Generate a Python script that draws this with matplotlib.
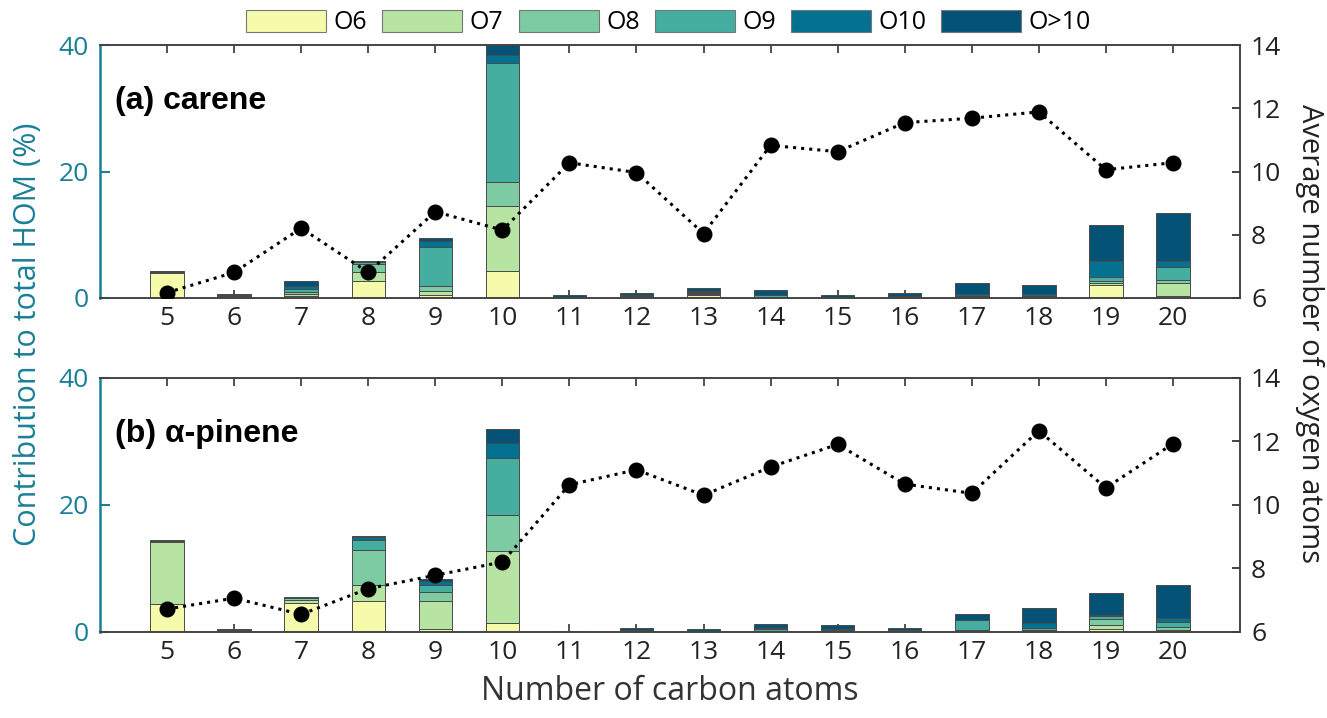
import numpy as np
import matplotlib.pyplot as plt
from matplotlib.patches import Patch

carbon = np.arange(5, 21)
groups = ['O6', 'O7', 'O8', 'O9', 'O10', 'O>10']
colors = ['#f5fbaa', '#b8e4a3', '#7ccba2', '#46aea0', '#047190', '#045275']

# (a) carene: contribution (%) of each oxygen group per carbon number
car_O6 = [3.9, 0.10, 0.30, 2.7, 0.5, 4.2, 0.02, 0.05, 0.50, 0.05, 0.02, 0.02, 0.05, 0.05, 2.1, 0.3]
car_O7 = [0.1, 0.15, 0.35, 1.4, 0.6, 10.4, 0.02, 0.05, 0.15, 0.05, 0.02, 0.02, 0.10, 0.05, 0.2, 2.0]
car_O8 = [0.05, 0.10, 0.30, 1.3, 0.8, 3.75, 0.02, 0.05, 0.10, 0.10, 0.02, 0.03, 0.10, 0.10, 0.4, 0.6]
car_O9 = [0.05, 0.10, 0.50, 0.3, 6.1, 18.9, 0.04, 0.10, 0.15, 0.20, 0.04, 0.05, 0.10, 0.10, 0.6, 2.0]
car_O10 = [0.05, 0.05, 0.40, 0.1, 1.05, 1.2, 0.10, 0.15, 0.20, 0.10, 0.10, 0.15, 0.35, 0.40, 2.5, 1.0]
car_Ohi = [0.1, 0.10, 0.90, 0.1, 0.4, 2.0, 0.20, 0.40, 0.40, 0.75, 0.30, 0.45, 1.70, 1.30, 5.8, 7.5]
car_avgO = [6.17, 6.81, 8.21, 6.81, 8.73, 8.15, 10.28, 9.97, 8.04, 10.83, 10.63, 11.55, 11.69, 11.89, 10.06, 10.28]

# (b) alpha-pinene
pin_O6 = [4.4, 0.05, 4.6, 4.9, 0.5, 1.45, 0.01, 0.03, 0.02, 0.05, 0.03, 0.02, 0.05, 0.05, 0.5, 0.05]
pin_O7 = [9.7, 0.05, 0.4, 2.4, 4.4, 11.2, 0.01, 0.03, 0.03, 0.05, 0.05, 0.03, 0.05, 0.10, 0.5, 0.3]
pin_O8 = [0.1, 0.05, 0.3, 5.6, 1.35, 5.8, 0.01, 0.04, 0.05, 0.10, 0.07, 0.05, 0.15, 0.20, 1.05, 0.35]
pin_O9 = [0.05, 0.05, 0.05, 1.55, 1.2, 8.85, 0.02, 0.05, 0.05, 0.20, 0.10, 0.05, 1.55, 0.30, 0.4, 0.8]
pin_O10 = [0.05, 0.05, 0.05, 0.4, 0.55, 2.45, 0.02, 0.10, 0.05, 0.20, 0.15, 0.10, 0.05, 0.70, 0.25, 0.6]
pin_Ohi = [0.2, 0.15, 0.1, 0.25, 0.3, 2.2, 0.03, 0.30, 0.20, 0.70, 0.60, 0.30, 1.00, 2.40, 3.4, 5.25]
pin_avgO = [6.72, 7.06, 6.55, 7.36, 7.78, 8.20, 10.63, 11.10, 10.30, 11.19, 11.90, 10.65, 10.36, 12.33, 10.53, 11.92]

teal = '#1a7f96'
fs = 19
plt.rcParams['font.family'] = ['Open Sans', 'DejaVu Sans']

fig = plt.figure(figsize=(13.27, 7.18), dpi=100)
ax_a = fig.add_axes([0.0754, 0.585, 0.859, 0.352])
ax_b = fig.add_axes([0.0754, 0.120, 0.859, 0.354])


def panel(ax, layers, avgO, label):
    bottom = np.zeros(len(carbon))
    for vals, c in zip(layers, colors):
        vals = np.array(vals)
        ax.bar(carbon, vals, width=0.5, bottom=bottom, color=c,
               edgecolor='#4a4a4a', linewidth=0.7, zorder=2)
        bottom += vals
    ax.set_xlim(4, 21)
    ax.set_ylim(0, 40)
    ax.set_yticks([0, 20, 40])
    ax.set_xticks(carbon)
    ax.tick_params(axis='y', colors=teal, labelsize=fs, direction='in', length=7, width=1.5, pad=8)
    ax.tick_params(axis='x', labelsize=fs, direction='in', length=6, width=1.2, pad=6,
                   top=True, colors='#333333', labelcolor='#222222')
    for s in ['top', 'bottom', 'right']:
        ax.spines[s].set_color('#444444')
        ax.spines[s].set_linewidth(1.2)
    ax.spines['left'].set_color(teal)
    ax.spines['left'].set_linewidth(1.8)
    ax.text(0.013, 0.78, label, transform=ax.transAxes, fontsize=23, va='center',
            fontweight='bold', family=['Liberation Sans', 'DejaVu Sans'])

    ax2 = ax.twinx()
    ax2.plot(carbon, avgO, ':', color='black', linewidth=2.2, marker='o',
             markersize=10.5, zorder=3)
    ax2.set_ylim(6, 14)
    ax2.set_yticks([6, 8, 10, 12, 14])
    ax2.tick_params(axis='y', labelsize=fs, direction='in', length=6, width=1.2,
                    colors='#222222', pad=8)
    ax2.spines['left'].set_visible(False)
    for s in ['top', 'bottom', 'right']:
        ax2.spines[s].set_color('#444444')
        ax2.spines[s].set_linewidth(1.2)
    return ax2


panel(ax_a, [car_O6, car_O7, car_O8, car_O9, car_O10, car_Ohi], car_avgO, '(a) carene')
panel(ax_b, [pin_O6, pin_O7, pin_O8, pin_O9, pin_O10, pin_Ohi], pin_avgO, '(b) α-pinene')

ax_b.set_xlabel('Number of carbon atoms', fontsize=23, color='#333333', labelpad=7)
fig.text(0.021, 0.535, 'Contribution to total HOM (%)', rotation=90, color=teal,
         fontsize=22, ha='center', va='center')
fig.text(0.987, 0.535, 'Average number of oxygen atoms', rotation=270, color='#222222',
         fontsize=21, ha='center', va='center')

handles = [Patch(facecolor=c, edgecolor='#777777', linewidth=0.8) for c in colors]
fig.legend(handles, groups, loc='upper center', bbox_to_anchor=(0.504, 1.018), ncol=6,
           frameon=False, handlelength=3.2, handleheight=1.0,
           columnspacing=0.6, handletextpad=0.3,
           prop={'family': ['Open Sans', 'DejaVu Sans'], 'size': 18})

fig.savefig('out.png', dpi=100)
